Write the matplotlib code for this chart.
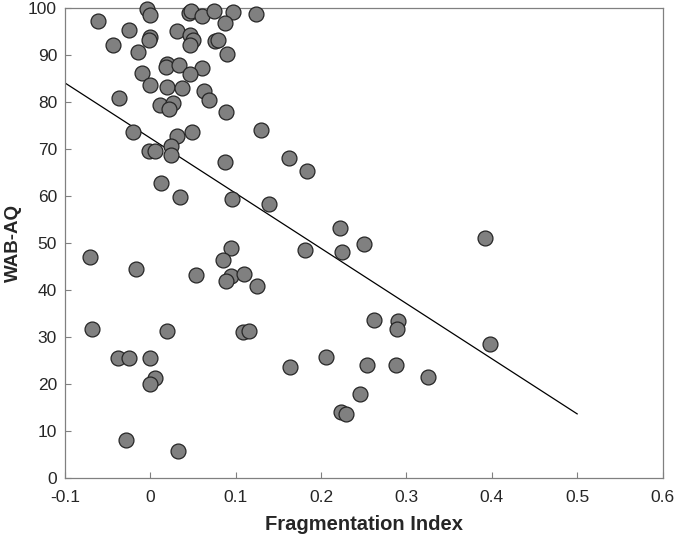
import matplotlib
matplotlib.use("Agg")
import matplotlib.pyplot as plt

# fragmentation index vs WAB-AQ
frag_index = [
    -0.004, 0.000, -0.061, -0.025, -0.044, -0.001, -0.002, -0.014,
    0.045, 0.048, 0.060, 0.075, 0.097, 0.124, 0.087, 0.031, 0.046, 0.050,
    0.046, 0.076, 0.079, 0.090, 0.019, 0.018, 0.033, 0.061,
    0.046, -0.010, 0.000, 0.019, 0.037, 0.063, 0.069, -0.037, 0.011, 0.027,
    0.022, 0.089, -0.020, 0.031, 0.049, 0.130, 0.024, -0.002, 0.005, 0.024,
    0.088,
    0.013, 0.035, 0.096, 0.139, 0.094, 0.085, -0.071, -0.017, 0.053, 0.095,
    0.089, 0.110, 0.125,
    -0.068, 0.020, 0.108, 0.116, -0.038, -0.025, 0.000, 0.005, 0.000,
    -0.029, 0.032,
    0.163, 0.184, 0.222, 0.250, 0.181, 0.224, 0.392,
    0.262, 0.290, 0.289, 0.398, 0.206, 0.164, 0.254, 0.288, 0.325, 0.246,
    0.223, 0.229,
]
wab_aq = [
    99.8, 98.6, 97.4, 95.3, 92.2, 93.8, 93.2, 90.6,
    99.1, 99.4, 98.4, 99.4, 99.2, 98.8, 96.9, 95.1, 94.4, 93.3,
    92.1, 93.1, 93.2, 90.2, 88.1, 87.6, 87.9, 87.3,
    86.1, 86.3, 83.7, 83.3, 83.1, 82.4, 80.4, 80.9, 79.3, 79.8,
    78.5, 77.9, 73.6, 72.8, 73.6, 74.0, 70.7, 69.6, 69.7, 68.7,
    67.3,
    62.7, 59.9, 59.4, 58.3, 48.9, 46.3, 47.0, 44.4, 43.2, 43.0,
    41.9, 43.4, 40.8,
    31.7, 31.2, 31.0, 31.3, 25.4, 25.6, 25.6, 21.3, 20.0,
    8.0, 5.7,
    68.2, 65.3, 53.1, 49.7, 48.5, 48.0, 51.0,
    33.5, 33.3, 31.7, 28.5, 25.7, 23.6, 24.1, 24.1, 21.5, 17.9,
    13.9, 13.5,
]

# regression line end points
fit_x = [-0.1, 0.5]
fit_y = [84.1, 13.6]

x_ticks = [-0.1, 0, 0.1, 0.2, 0.3, 0.4, 0.5, 0.6]
x_ticklabels = ["-0.1", "0", "0.1", "0.2", "0.3", "0.4", "0.5", "0.6"]
y_ticks = [0, 10, 20, 30, 40, 50, 60, 70, 80, 90, 100]

plt.rcParams['font.family'] = ['Liberation Sans', 'DejaVu Sans']

fig = plt.figure(figsize=(6.75, 5.37), dpi=100)
ax = fig.add_axes([0.0963, 0.1104, 0.8852, 0.8741])

ax.scatter(frag_index, wab_aq, s=115, c='#808080', edgecolors='#262626',
           linewidths=0.9, zorder=3, clip_on=False)
ax.plot(fit_x, fit_y, color='black', linewidth=0.9, zorder=2)

ax.set_xlim(-0.1, 0.6)
ax.set_ylim(0, 100)
ax.set_xticks(x_ticks)
ax.set_xticklabels(x_ticklabels)
ax.set_yticks(y_ticks)

ax.tick_params(direction='in', length=4.5, width=0.8, colors='#808080',
               labelcolor='#262626', labelsize=12.5)
ax.tick_params(axis='x', pad=8.6)
ax.tick_params(axis='y', pad=5.7)
for sp in ax.spines.values():
    sp.set_color('#808080')
    sp.set_linewidth(0.9)

ax.set_xlabel('Fragmentation Index', fontsize=14.5, fontweight='bold',
              color='#262626', labelpad=7.5)
ax.set_ylabel('WAB-AQ', fontsize=13.5, fontweight='bold', color='#262626',
              labelpad=4.5)

fig.savefig('out.png', dpi=100)
